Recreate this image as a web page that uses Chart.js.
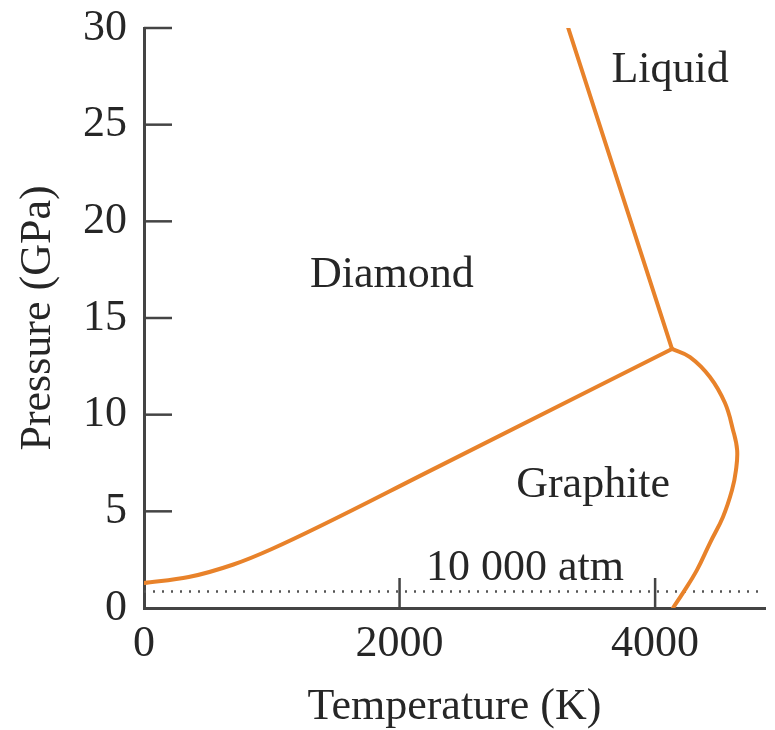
<!DOCTYPE html>
<html>
<head>
<meta charset="utf-8">
<script src="https://cdn.jsdelivr.net/npm/chart.js@4.4.1/dist/chart.umd.min.js"></script>
<style>
  html, body { margin: 0; padding: 0; background: #fff; }
  #wrap { width: 775px; height: 730px; }
</style>
</head>
<body>
<div id="wrap"><canvas id="phaseChart"></canvas></div>
<script>
// carbon phase diagram
var diamondGraphiteT = [0, 350, 700, 1000, 2300, 4132];
var diamondGraphiteP = [1.29, 1.6, 2.25, 3.05, 7.3, 13.4];

var diamondLiquidT = [4132, 3320];
var diamondLiquidP = [13.4, 30];

var graphiteLiquidT = [4132, 4273, 4429, 4547, 4610, 4642, 4633, 4602, 4531, 4429, 4328, 4218, 4140];
var graphiteLiquidP = [13.4, 12.98, 11.95, 10.6, 9.2, 8.17, 7.14, 6.1, 4.71, 3.36, 1.97, 0.78, 0];

// 10 000 atm reference line
var atmLineT = [0, 4860];
var atmLineP = [0.85, 0.85];

var xTickValues = [0, 2000, 4000];
var yTickValues = [0, 5, 10, 15, 20, 25, 30];

var regionLabels = ["Diamond", "Graphite", "Liquid", "10 000 atm"];
var regionLabelT = [1940, 3515, 4117, 2982];
var regionLabelP = [16.6, 5.74, 27.2, 1.45];

var serif = "'Liberation Serif', 'Times New Roman', serif";
var ink = '#262626';
var axisColor = '#444444';
var orange = '#E8822A';

function toPoints(xs, ys) {
  var pts = [];
  for (var i = 0; i < xs.length; i++) {
    pts.push({ x: xs[i], y: ys[i] });
  }
  return pts;
}

function curve(xs, ys, extra) {
  var ds = {
    data: toPoints(xs, ys),
    showLine: true,
    borderColor: orange,
    borderWidth: 4,
    pointRadius: 0,
    borderCapStyle: 'round',
    borderJoinStyle: 'round',
    fill: false
  };
  for (var k in extra) ds[k] = extra[k];
  return ds;
}

// tick marks point into the plot, so draw them here with the scales
var innerTicks = {
  id: 'innerTicks',
  afterDraw: function(chart) {
    var ctx = chart.ctx;
    var xs = chart.scales.x;
    var ys = chart.scales.y;
    var area = chart.chartArea;
    ctx.save();
    ctx.strokeStyle = axisColor;
    ctx.lineWidth = 2.5;
    yTickValues.forEach(function(v) {
      if (v === 0) return;
      var py = ys.getPixelForValue(v);
      ctx.beginPath();
      ctx.moveTo(area.left, py);
      ctx.lineTo(area.left + 28, py);
      ctx.stroke();
    });
    xTickValues.forEach(function(v) {
      if (v === 0) return;
      var px = xs.getPixelForValue(v);
      ctx.beginPath();
      ctx.moveTo(px, area.bottom);
      ctx.lineTo(px, area.bottom - 30);
      ctx.stroke();
    });

    ctx.fillStyle = ink;
    ctx.font = '44px ' + serif;
    ctx.textAlign = 'center';
    ctx.textBaseline = 'alphabetic';
    for (var i = 0; i < regionLabels.length; i++) {
      ctx.fillText(regionLabels[i], xs.getPixelForValue(regionLabelT[i]), ys.getPixelForValue(regionLabelP[i]));
    }
    ctx.restore();
  }
};

var ctx = document.getElementById('phaseChart').getContext('2d');
var phaseChart = new Chart(ctx, {
  type: 'scatter',
  data: {
    datasets: [
      curve(diamondGraphiteT, diamondGraphiteP, { cubicInterpolationMode: 'monotone' }),
      curve(diamondLiquidT, diamondLiquidP, {}),
      curve(graphiteLiquidT, graphiteLiquidP, { tension: 0.4 }),
      {
        data: toPoints(atmLineT, atmLineP),
        showLine: true,
        borderColor: '#555555',
        borderWidth: 2.5,
        borderDash: [2, 7],
        pointRadius: 0,
        fill: false
      }
    ]
  },
  options: {
    responsive: true,
    maintainAspectRatio: false,
    animation: false,
    layout: { padding: { top: 28, right: 10, left: 0, bottom: 0 } },
    plugins: {
      legend: { display: false },
      tooltip: { enabled: false }
    },
    scales: {
      x: {
        type: 'linear',
        min: 0,
        max: 4860,
        afterBuildTicks: function(scale) {
          scale.ticks = xTickValues.map(function(v) { return { value: v }; });
        },
        afterFit: function(scale) {
          scale.height = 122;
          scale.paddingLeft = 0;
          scale.paddingRight = 0;
        },
        grid: { display: true, drawOnChartArea: false, drawTicks: false },
        border: { display: true, color: axisColor, width: 3 },
        ticks: {
          autoSkip: false,
          maxRotation: 0,
          padding: 10,
          color: ink,
          font: { family: serif, size: 44 },
          callback: function(value) { return String(value); }
        },
        title: {
          display: true,
          text: 'Temperature (K)',
          color: ink,
          font: { family: serif, size: 44, lineHeight: 1 },
          padding: { top: 0, bottom: 1 }
        }
      },
      y: {
        type: 'linear',
        min: 0,
        max: 30,
        afterBuildTicks: function(scale) {
          scale.ticks = yTickValues.map(function(v) { return { value: v }; });
        },
        afterFit: function(scale) {
          scale.width = 144;
          scale.paddingTop = 0;
          scale.paddingBottom = 0;
        },
        grid: { display: true, drawOnChartArea: false, drawTicks: false },
        border: { display: true, color: axisColor, width: 3 },
        ticks: {
          autoSkip: false,
          padding: 17,
          color: ink,
          font: { family: serif, size: 44 }
        },
        title: {
          display: true,
          text: 'Pressure (GPa)',
          color: ink,
          font: { family: serif, size: 44, lineHeight: 1 },
          padding: { top: 16, bottom: 0 }
        }
      }
    }
  },
  plugins: [innerTicks]
});
</script>
</body>
</html>
